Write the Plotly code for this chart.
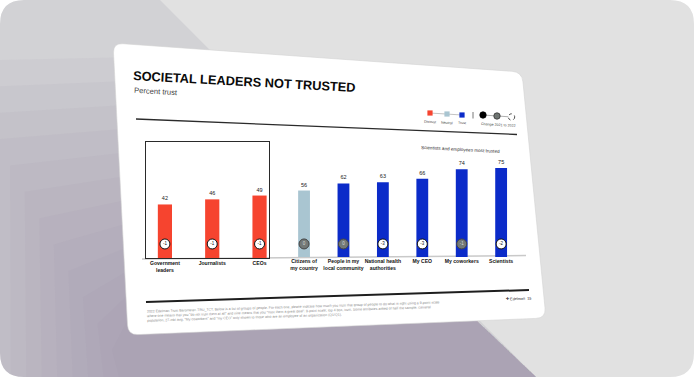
import plotly.graph_objects as go

W, H = 694, 380

# ---------------- data ----------------
categories = ['Government<br>leaders', 'Journalists', 'CEOs',
              'Citizens of<br>my country', 'People in my<br>local community',
              'National health<br>authorities', 'My CEO', 'My coworkers', 'Scientists']
trust_pct = [42, 46, 49, 56, 62, 63, 66, 74, 75]
change_labels = ['-1', '-1', '-1', '0', '0', '-3', '-3', '-1', '-2']
change_significant = [True, True, True, False, False, True, True, False, True]
n_not_trusted = 3

legend_labels = ['Distrust', 'Neutral', 'Trust']
title = 'SOCIETAL LEADERS NOT TRUSTED'
subtitle = 'Percent trust'
callout = 'Scientists and employees most trusted'
footnote = ('2022 Edelman Trust Barometer. TRU_TCT. Below is a list of groups of people. For each one, please indicate how much you trust that group of people to do what is right using a 9-point scale<br>'
            'where one means that you "do not trust them at all" and nine means that you "trust them a great deal". 9-point scale; top 4 box, trust. Some attributes asked of half the sample. General<br>'
            'population, 27-mkt avg. "My coworkers" and "my CEO" only shown to those who are an employee of an organization (Q1/Q1).')

# ---------------- style ----------------
RED, NEUTRAL, BLUE = '#f6442f', '#a9c5d1', '#0b2bc9'
FONT = 'Liberation Sans, Arial, sans-serif'
CHANGE_Y = 11


def level_color(v):
    return RED if v < 50 else (NEUTRAL if v < 60 else BLUE)


def px(x):
    return x / W


def py(y):
    return 1 - y / H


def path(pts, close=True):
    s = 'M ' + ' L '.join(f'{px(x):.5f},{py(y):.5f}' for x, y in pts)
    return s + (' Z' if close else '')


def rounded_path(pts, r):
    n = len(pts)
    segs = []
    for i in range(n):
        p0, p1, p2 = pts[i - 1], pts[i], pts[(i + 1) % n]
        def toward(a, b, d):
            dx, dy = b[0] - a[0], b[1] - a[1]
            L = (dx * dx + dy * dy) ** 0.5
            return (a[0] + dx / L * d, a[1] + dy / L * d)
        a = toward(p1, p0, r)
        b = toward(p1, p2, r)
        segs.append(('L' if segs else 'M') + f' {px(a[0]):.5f},{py(a[1]):.5f}')
        segs.append(f'Q {px(p1[0]):.5f},{py(p1[1]):.5f} {px(b[0]):.5f},{py(b[1]):.5f}')
    return ' '.join(segs) + ' Z'


shapes = []


def add_path(p, fill, line_color=None, lw=0, opacity=1.0):
    shapes.append(dict(type='path', path=p, xref='paper', yref='paper', layer='below',
                       fillcolor=fill, opacity=opacity,
                       line=dict(color=line_color or 'rgba(0,0,0,0)', width=lw)))


def add_line(x0, y0, x1, y1, color, width, dash='solid'):
    shapes.append(dict(type='line', xref='paper', yref='paper', layer='below',
                       x0=px(x0), y0=py(y0), x1=px(x1), y1=py(y1),
                       line=dict(color=color, width=width, dash=dash)))


# background (light panel, darker left half, soft shadow under the tilted slide)
B = 377
add_path(path([(0, 0), (W, 0), (W, B), (0, B)]), '#e1e1e1')
add_path(path([(0, 0), (160, 0), (536, B), (0, B)]), '#d2d2d5')
N_STEPS = 12
for i in range(N_STEPS):
    t = i / (N_STEPS - 1)
    lead = max(0.0, t - 0.3)
    sx, sy = lead * 160, 60 + 290 * t
    s = 0.05 + 0.9 * t
    edge = (113 + 15 * s, 43 + 292 * s)
    bx = lead * 170
    add_path(path([(sx, sy), edge, (477, 321), (536, B), (bx, B)]), '#9391a6', opacity=0.08)
# rounded corner masks
R = 24
for (cx, cy, sx, sy) in [(0, 0, 1, 1), (W, 0, -1, 1), (0, B, 1, -1), (W, B, -1, -1)]:
    p = (f'M {px(cx):.5f},{py(cy):.5f} L {px(cx + sx * R):.5f},{py(cy):.5f} '
         f'Q {px(cx):.5f},{py(cy):.5f} {px(cx):.5f},{py(cy + sy * R):.5f} Z')
    add_path(p, 'white')
add_path(path([(0, B), (W, B), (W, H), (0, H)]), 'white')

# slide
add_path(rounded_path([(113, 43), (522, 72), (546, 318), (128, 335)], 10), 'white', '#d4d4d4', 0.6)

# rules
add_line(136, 119, 517, 134.5, '#2b2b2b', 1.3)
add_line(146, 302, 529, 290, '#1e1e1e', 2)
add_line(142, 259, 526, 255.5, '#c9c9c9', 1.5)

# legend marks
add_line(430, 113, 462, 115, '#9a9a9a', 0.6)
for (x, y, c) in [(430, 113, RED), (447, 114, NEUTRAL), (462, 115, BLUE)]:
    shapes.append(dict(type='rect', xref='paper', yref='paper', layer='below',
                       x0=px(x - 2.6), x1=px(x + 2.6), y0=py(y + 2.6), y1=py(y - 2.6),
                       fillcolor=c, line=dict(width=0)))
add_line(473, 112, 473, 118.5, '#555', 0.8)
add_line(483, 115, 512, 117, '#777', 0.6)
for (x, y, c, lc, d) in [(483, 115, '#000000', '#000000', 'solid'),
                         (497, 116, '#6f7572', '#333333', 'solid'),
                         (511.5, 117, '#ffffff', '#222222', 'dot')]:
    shapes.append(dict(type='circle', xref='paper', yref='paper', layer='below',
                       x0=px(x - 3.2), x1=px(x + 3.2), y0=py(y + 3.2), y1=py(y - 3.2),
                       fillcolor=c, line=dict(color=lc, width=0.8, dash=d)))

annotations = []


def ann(text, x, y, size, angle=0, color='#111', xanchor='center', yanchor='middle',
        family=FONT, align='center'):
    annotations.append(dict(text=text, x=px(x), y=py(y), xref='paper', yref='paper',
                            showarrow=False, textangle=angle, xanchor=xanchor, yanchor=yanchor,
                            align=align, borderpad=0,
                            font=dict(size=size, color=color, family=family)))


ann(f'<b>{title}</b>', 132, 81, 12.8, 3.1, '#0a0a0a', xanchor='left')
ann(subtitle, 133, 92, 7.6, 3, '#444', xanchor='left')
for (x, y), lab in zip([(430, 122), (447, 123), (462, 123.5)], legend_labels):
    ann(lab, x, y, 3.6, 3, '#444')
ann('Change 2021 to 2022', 498, 124.5, 3.6, 3, '#444')
ann(callout, 460, 149, 4.6, 3, '#333')
ann(footnote, 146, 311, 3.5, -1.8, '#8a8a8a', xanchor='left', align='left')
ann('<b>✢</b> Edelman  15', 518, 298.5, 3.8, -1.8, '#222')

# ---------------- traces ----------------
fig = go.Figure()

groups = [(slice(0, n_not_trusted), 'x', 'y'), (slice(n_not_trusted, None), 'x2', 'y2')]
for sl, xa, ya in groups:
    cats = categories[sl]
    vals = trust_pct[sl]
    fig.add_trace(go.Bar(
        x=cats, y=vals, xaxis=xa, yaxis=ya, width=0.3,
        marker=dict(color=[level_color(v) for v in vals], line=dict(width=0)),
        text=[str(v) for v in vals], textposition='outside', cliponaxis=False,
        textfont=dict(size=5.5, color='#222', family=FONT), hoverinfo='skip'))
    sig = change_significant[sl]
    fig.add_trace(go.Scatter(
        x=cats, y=[CHANGE_Y] * len(cats), xaxis=xa, yaxis=ya, mode='markers+text',
        text=change_labels[sl], textposition='middle center', cliponaxis=False,
        marker=dict(size=10, color=['white' if s else '#737876' for s in sig],
                    line=dict(color=['#111' if s else '#444' for s in sig], width=1)),
        textfont=dict(size=4.5, color=['#111' if s else '#d8d8d8' for s in sig], family=FONT),
        hoverinfo='skip'))

tickfont = dict(size=5.1, color='#111', family=FONT, weight='bold')
fig.update_layout(
    width=W, height=H, margin=dict(l=0, r=0, t=0, b=0),
    paper_bgcolor='white', plot_bgcolor='rgba(0,0,0,0)', showlegend=False,
    shapes=shapes, annotations=annotations,
    xaxis=dict(domain=[px(146), px(269)], range=[-0.4, 2.2], anchor='y',
               showline=True, mirror=True, linecolor='#2a2a2a', linewidth=1,
               showgrid=False, zeroline=False, ticks='', tickangle=0,
               tickfont=tickfont, fixedrange=True),
    yaxis=dict(domain=[py(258), py(142)], range=[0, 91], anchor='x',
               showline=True, mirror=True, linecolor='#2a2a2a', linewidth=1,
               showgrid=False, zeroline=False, showticklabels=False, ticks=''),
    xaxis2=dict(domain=[px(280), px(524)], range=[-0.61, 5.58], anchor='y2',
                showline=False, showgrid=False, zeroline=False, ticks='', tickangle=0,
                tickfont=tickfont),
    yaxis2=dict(domain=[py(257), py(149)], range=[0, 91], anchor='x2',
                showline=False, showgrid=False, zeroline=False, showticklabels=False),
)

fig.write_html('out.html', config={'displayModeBar': False},
               post_script="document.body.style.margin='0';document.body.style.overflow='hidden';")
